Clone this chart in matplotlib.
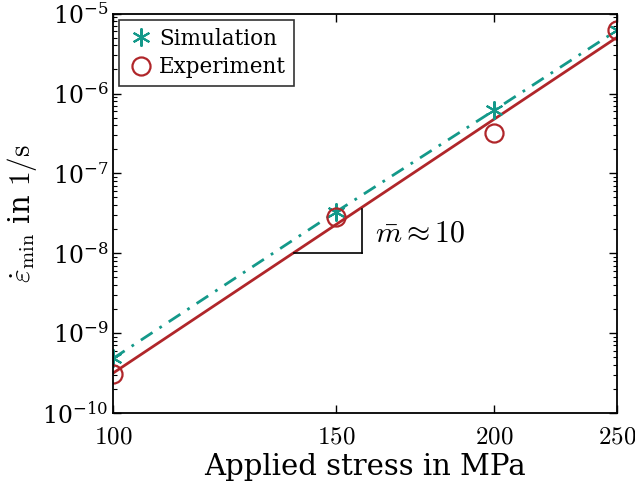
import numpy as np
import matplotlib
matplotlib.use("Agg")
import matplotlib.pyplot as plt
from matplotlib.ticker import (FixedLocator, FixedFormatter, LogLocator,
                               NullLocator, NullFormatter)

plt.rcParams["font.family"] = "DejaVu Serif"
plt.rcParams["mathtext.fontset"] = "cm"

# data
stress = [100, 150, 200, 250]
sim_rate = [4.8e-10, 3.3e-8, 6.2e-7, 6.2e-6]
exp_rate = [3.1e-10, 2.8e-8, 3.2e-7, 6.3e-6]
xticks = [100, 150, 200, 250]
slope_tri_x = [139, 157.3, 157.3]
slope_tri_y = [1e-8, 1e-8, 3.6e-8]

teal = "#14998a"
red = "#b0262a"

# power law fit of the experiment
coef = np.polyfit(np.log10(stress), np.log10(exp_rate), 1)
fit_x = np.array([stress[0], stress[-1]])
fit_y = 10 ** np.polyval(coef, np.log10(fit_x))

fig = plt.figure(figsize=(6.35, 4.88), dpi=100)
ax = fig.add_axes([0.178, 0.154, 0.794, 0.818])

ax.plot(stress, sim_rate, color=teal, linewidth=2, dashes=(5, 3, 1, 3))
ax.plot(fit_x, fit_y, "-", color=red, linewidth=2)
ax.plot(stress, sim_rate, linestyle="none", marker=(6, 2, 0), markersize=13,
        markeredgewidth=1.5, color=teal, label="Simulation")
ax.plot(stress, exp_rate, linestyle="none", marker="o", markersize=13,
        markerfacecolor="none", markeredgewidth=1.6, color=red, label="Experiment")

ax.plot(slope_tri_x[:2], slope_tri_y[:2], color="black", linewidth=1.2)
ax.plot(slope_tri_x[1:], slope_tri_y[1:], color="black", linewidth=1.2)
ax.text(161, 1.75e-8, r"$\bar{m} \approx 10$", fontsize=21.5, va="center", ha="left")

ax.set_xscale("log")
ax.set_yscale("log")
ax.set_xlim(100, 250)
ax.set_ylim(1e-10, 1e-5)
ax.xaxis.set_major_locator(FixedLocator(xticks))
ax.xaxis.set_major_formatter(FixedFormatter([r"$%d$" % t for t in xticks]))
ax.xaxis.set_minor_locator(NullLocator())
ax.xaxis.set_minor_formatter(NullFormatter())
ax.yaxis.set_major_locator(LogLocator(base=10, numticks=10))
ax.yaxis.set_minor_locator(LogLocator(base=10, subs=np.arange(2, 10), numticks=20))
ax.yaxis.set_minor_formatter(NullFormatter())

ax.tick_params(which="both", direction="in", top=True, right=True, labelsize=17)
ax.tick_params(axis="x", labelsize=18, pad=9)
ax.tick_params(which="major", length=6, width=1)
ax.tick_params(which="minor", length=3, width=0.8)
for s in ax.spines.values():
    s.set_linewidth(1.3)

ax.set_xlabel("Applied stress in MPa", fontsize=21, labelpad=3)
ax.set_ylabel(r"$\dot{\varepsilon}_{\min}$ in $1/\mathrm{s}$", fontsize=21, labelpad=2)

leg = ax.legend(loc="upper left", fontsize=15.5, frameon=True, fancybox=False,
                edgecolor="black", handletextpad=0.2, borderpad=0.35,
                labelspacing=0.3, handlelength=1.3, borderaxespad=0.3)
leg.get_frame().set_linewidth(1.2)

fig.savefig("out.png", dpi=100)
